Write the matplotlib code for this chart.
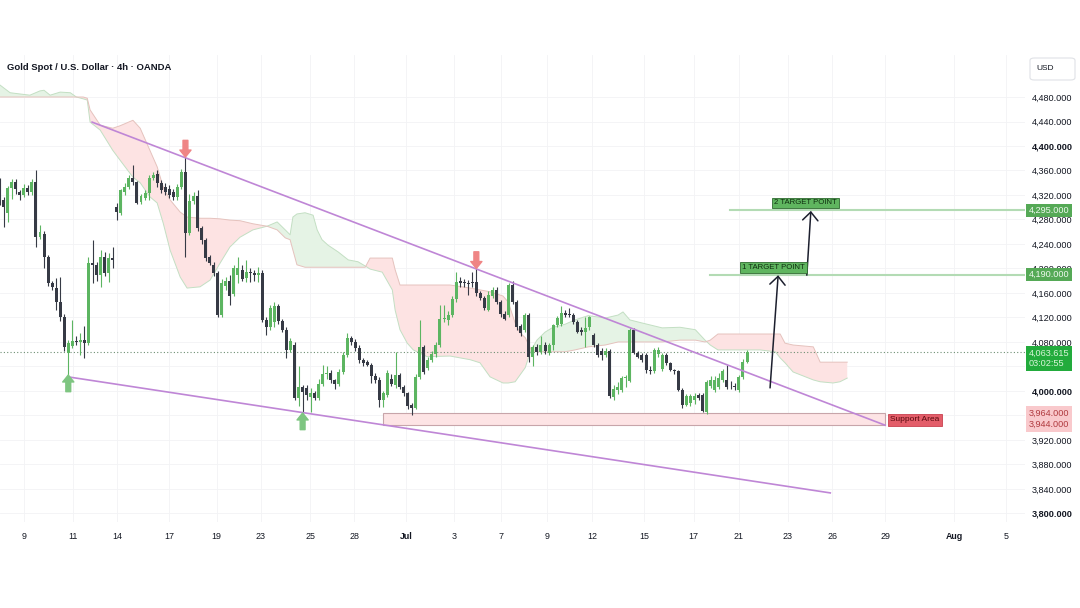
import matplotlib
matplotlib.use("Agg")
import matplotlib.pyplot as plt
import matplotlib.transforms as mtransforms
from matplotlib.patches import Rectangle, FancyBboxPatch
import numpy as np

plt.rcParams['font.family'] = ['Liberation Sans', 'DejaVu Sans']

# 4h candles (bar index = position)
opens = [4341, 4312, 4291, 4332, 4341, 4325, 4320, 4332, 4325, 4341,
         4252, 4257, 4219, 4176, 4168, 4145, 4121, 4062, 4074, 4082,
         4080, 4083, 4078, 4209, 4205, 4190, 4219, 4193, 4217, 4301,
         4290, 4325, 4333, 4348, 4341, 4309, 4315, 4323, 4348, 4354,
         4340, 4333, 4330, 4325, 4317, 4333, 4358, 4258, 4310, 4318,
         4266, 4247, 4219, 4206, 4193, 4124, 4172, 4180, 4158, 4190,
         4198, 4185, 4193, 4192, 4190, 4193, 4116, 4104, 4112, 4138,
         4115, 4100, 4067, 4075, 3989, 4007, 4005, 3990, 3996, 3989,
         4012, 4027, 4029, 4018, 4012, 4031, 4059, 4087, 4080, 4070,
         4050, 4047, 4043, 4024, 4018, 3986, 3993, 4020, 4010, 4026,
         4007, 3996, 3977, 3972, 4023, 4072, 4038, 4051, 4060, 4075,
         4117, 4116, 4124, 4150, 4179, 4177, 4176, 4177, 4178, 4160,
         4152, 4132, 4155, 4165, 4145, 4126, 4124, 4173, 4145, 4106,
         4100, 4124, 4056, 4072, 4063, 4075, 4062, 4075, 4108, 4110,
         4127, 4125, 4124, 4113, 4100, 4097, 4104, 4091, 4075, 4065,
         4058, 4065, 3990, 4002, 4002, 4021, 4017, 4100, 4062, 4058,
         4058, 4034, 4032, 4060, 4036, 4059, 4045, 4034, 4032, 4002,
         3977, 3980, 3985, 3993, 3993, 3966, 4008, 4002, 4007, 4018,
         4018, 4010, 4008, 4002, 4023, 4048]
highs = [4348, 4317, 4335, 4346, 4346, 4328, 4338, 4336, 4346, 4361,
         4271, 4262, 4222, 4180, 4184, 4186, 4125, 4083, 4116, 4090,
         4094, 4106, 4219, 4247, 4210, 4230, 4227, 4225, 4235, 4307,
         4330, 4340, 4352, 4369, 4343, 4322, 4328, 4352, 4358, 4360,
         4345, 4340, 4336, 4330, 4338, 4362, 4382, 4322, 4325, 4328,
         4270, 4250, 4222, 4210, 4196, 4182, 4186, 4190, 4205, 4219,
         4206, 4214, 4200, 4198, 4202, 4198, 4120, 4140, 4145, 4142,
         4118, 4105, 4086, 4080, 4041, 4010, 4010, 4005, 4000, 4020,
         4042, 4040, 4035, 4020, 4036, 4063, 4095, 4090, 4085, 4075,
         4053, 4050, 4046, 4030, 4022, 4000, 4035, 4028, 4064, 4030,
         4010, 3998, 3980, 4027, 4116, 4075, 4055, 4065, 4080, 4140,
         4140, 4130, 4155, 4194, 4186, 4182, 4181, 4195, 4200, 4163,
         4155, 4164, 4170, 4170, 4148, 4130, 4176, 4179, 4148, 4110,
         4127, 4128, 4075, 4076, 4090, 4080, 4078, 4110, 4122, 4138,
         4132, 4135, 4128, 4116, 4104, 4121, 4123, 4095, 4078, 4070,
         4070, 4068, 4010, 4015, 4025, 4026, 4103, 4103, 4065, 4062,
         4062, 4040, 4070, 4072, 4062, 4062, 4048, 4036, 4034, 4005,
         3995, 3995, 3996, 3997, 3996, 4018, 4025, 4024, 4030, 4036,
         4042, 4016, 4013, 4026, 4052, 4067]
lows = [4304, 4268, 4276, 4313, 4322, 4312, 4316, 4320, 4320, 4235,
        4248, 4201, 4172, 4165, 4132, 4115, 4066, 4026, 4070, 4075,
        4059, 4053, 4075, 4176, 4180, 4170, 4188, 4178, 4201, 4279,
        4288, 4320, 4330, 4336, 4305, 4305, 4312, 4312, 4345, 4333,
        4323, 4320, 4315, 4312, 4312, 4330, 4219, 4255, 4305, 4262,
        4240, 4213, 4205, 4188, 4120, 4120, 4165, 4140, 4155, 4176,
        4180, 4178, 4178, 4180, 4178, 4112, 4092, 4100, 4105, 4110,
        4097, 4054, 4063, 3985, 3975, 3964, 3985, 3966, 3985, 3985,
        4008, 4020, 4013, 4003, 4008, 4027, 4055, 4075, 4065, 4046,
        4040, 4040, 4013, 4013, 3974, 3973, 3990, 4008, 4005, 4003,
        3992, 3970, 3961, 3970, 4020, 4028, 4035, 4048, 4056, 4072,
        4112, 4108, 4120, 4146, 4170, 4170, 4157, 4170, 4155, 4148,
        4132, 4130, 4152, 4142, 4120, 4116, 4120, 4142, 4100, 4090,
        4096, 4048, 4040, 4058, 4060, 4060, 4058, 4067, 4104, 4106,
        4120, 4120, 4110, 4095, 4092, 4072, 4100, 4072, 4055, 4051,
        4055, 3988, 3985, 3995, 3998, 4007, 4015, 4060, 4053, 4048,
        4030, 4028, 4030, 4055, 4033, 4042, 4032, 4028, 4000, 3972,
        3975, 3976, 3978, 3985, 3966, 3962, 4005, 3998, 4004, 4015,
        4004, 4004, 4001, 3999, 4020, 4045]
closes = [4315, 4300, 4332, 4341, 4330, 4320, 4332, 4325, 4341, 4252,
          4260, 4219, 4176, 4170, 4145, 4121, 4072, 4078, 4082, 4080,
          4083, 4078, 4209, 4205, 4190, 4219, 4193, 4217, 4214, 4292,
          4328, 4333, 4348, 4341, 4307, 4318, 4323, 4348, 4353, 4339,
          4328, 4325, 4320, 4317, 4333, 4358, 4258, 4310, 4318, 4266,
          4247, 4217, 4209, 4193, 4124, 4176, 4180, 4155, 4201, 4201,
          4183, 4195, 4192, 4190, 4193, 4116, 4104, 4135, 4138, 4115,
          4100, 4067, 4082, 3989, 4007, 3999, 3993, 3996, 3989, 4012,
          4027, 4028, 4018, 4012, 4031, 4059, 4087, 4080, 4070, 4050,
          4045, 4043, 4024, 4018, 3985, 3996, 4030, 4012, 4026, 4007,
          3996, 3976, 3972, 4023, 4072, 4031, 4051, 4060, 4075, 4117,
          4118, 4124, 4150, 4178, 4177, 4176, 4174, 4176, 4160, 4152,
          4135, 4157, 4165, 4145, 4126, 4118, 4173, 4145, 4104, 4095,
          4124, 4056, 4072, 4063, 4075, 4065, 4075, 4108, 4119, 4127,
          4124, 4124, 4113, 4097, 4097, 4102, 4121, 4075, 4059, 4058,
          4065, 3992, 4004, 4007, 4021, 4023, 4100, 4062, 4056, 4051,
          4034, 4032, 4067, 4067, 4059, 4045, 4034, 4032, 4002, 3977,
          3991, 3991, 3991, 3989, 3968, 4015, 4018, 4018, 4021, 4032,
          4007, 4009, 4007, 4023, 4048, 4063.615]

# ichimoku cloud edges (bar position, leading span A, leading span B)
cloud_x = [0, 2.6, 5, 7.5, 10, 11, 12.5, 15, 17.5, 19,
           20.7, 21.7, 22.4, 24.9, 28, 29.8, 33, 34.8, 37.2, 39,
           40.5, 42.2, 44.7, 46.4, 49.6, 52.1, 54.6, 57, 59.5, 62.7,
           66.2, 68.7, 70.7, 71.9, 72.6, 73.6, 75.6, 77.6, 78.6, 79.8,
           81.3, 83.8, 86.3, 88.7, 90.5, 91.7, 94.7, 97.2, 97.9, 99.1,
           100.9, 102.4, 105.8, 111.5, 116.5, 118.9, 121.4, 124.6, 125.9, 127.6,
           128.8, 130.1, 131, 131.6, 133, 135, 137, 140, 142.4, 145.7,
           149.9, 153.1, 154.3, 156, 159, 164, 168.4, 172.2, 174.6, 175.9,
           177.8, 188.2, 192, 193.2, 194.4, 196.4, 201.4, 203.1, 206.3, 208, 209.8]
span_a = [4500, 4487, 4485, 4483, 4490, 4491, 4483, 4488, 4487, 4480,
          4477, 4475, 4439, 4426, 4393, 4377, 4349, 4340, 4317, 4307,
          4274, 4230, 4186, 4168, 4170, 4181, 4209, 4235, 4251, 4263,
          4269, 4276, 4263, 4255, 4284, 4289, 4291, 4287, 4263, 4247,
          4238, 4227, 4214, 4211, 4204, 4199, 4194, 4165, 4132, 4100,
          4078, 4067, 4056, 4057, 4051, 4046, 4023, 4013, 4013, 4015,
          4026, 4038, 4056, 4067, 4083, 4096, 4104, 4109, 4116, 4123,
          4119, 4124, 4129, 4116, 4111, 4103, 4104, 4100, 4083, 4075,
          4067, 4067, 4064, 4054, 4046, 4031, 4018, 4015, 4013, 4015, 4021]
span_b = [4480, 4480, 4480, 4480, 4480, 4480, 4480, 4480, 4480, 4480,
          4480, 4478, 4459, 4434, 4429, 4433, 4442, 4429, 4393, 4366,
          4333, 4312, 4292, 4284, 4282, 4282, 4281, 4279, 4278, 4273,
          4269, 4263, 4250, 4247, 4230, 4206, 4202, 4202, 4202, 4202,
          4202, 4202, 4202, 4202, 4202, 4217, 4217, 4217, 4198, 4173,
          4173, 4173, 4173, 4173, 4168, 4165, 4162, 4155, 4145, 4111,
          4095, 4087, 4075, 4067, 4064, 4064, 4064, 4064, 4067, 4072,
          4075, 4080, 4080, 4080, 4080, 4080, 4083, 4083, 4080, 4083,
          4093, 4093, 4093, 4093, 4078, 4075, 4072, 4047, 4047, 4047, 4047]

# drawings
upper_line_x = [22.9, 219.2]
upper_line_y = [4439, 3944]
lower_line_x = [16.95, 205.6]
lower_line_y = [4023, 3833.5]
support_x = [94.9, 219.2]
support_y = [3944, 3964]
sell_x = [46, 118]
sell_y = [4382, 4200]
buy_x = [17, 75]
buy_y = [4026, 3964]
target_prices = [4190, 4295]
target_start = [175.9, 180.8]
target_names = ['1 TARGET POINT', '2 TARGET POINT']
target_label_x = [191.5, 199.4]
target_label_y = [4202, 4307]
path1_x = [190.7, 192.7]
path1_y = [4005, 4189]
path2_x = [199.8, 200.8]
path2_y = [4189, 4294]
last_price = 4063.615

date_pos = [6.1, 18.1, 29.1, 42.0, 53.7, 64.7, 76.9, 87.8, 100.6, 112.5, 124.0,
            135.6, 146.7, 159.5, 171.8, 182.9, 195.1, 206.1, 219.2, 236.3, 249.1]
date_labels = ['9', '11', '14', '17', '19', '23', '25', '28', 'Jul', '3', '7',
               '9', '12', '15', '17', '21', '23', '26', '29', 'Aug', '5']
price_ticks = list(range(3800, 4481, 40))
hidden_ticks = [4040, 3960]   # covered by the price boxes

BULL = '#5cb561'
BEAR = '#363a45'

fig = plt.figure(figsize=(10.8, 6.08), dpi=100)
ax = fig.add_axes([0, 1 - 522 / 608, 1025 / 1080, 467 / 608])
ax.set_xlim(0.1, 253.8)
ax.set_ylim(3786, 4548.6)

# cloud
ca = np.array(span_a)
cb = np.array(span_b)
ax.fill_between(cloud_x, ca, cb, where=ca >= cb, interpolate=True, color='#e5f3e5', lw=0, zorder=1)
ax.fill_between(cloud_x, ca, cb, where=ca < cb, interpolate=True, color='#fde3e3', lw=0, zorder=1)
ax.plot(cloud_x, ca, color='#c3dfc3', lw=0.7, zorder=1.2)
ax.plot(cloud_x, cb, color='#e5c2bd', lw=0.7, zorder=1.2)

# support zone
ax.add_patch(Rectangle((support_x[0], support_y[0]), support_x[1] - support_x[0],
                       support_y[1] - support_y[0], fc='#fde4e5', ec='#c7a5aa', lw=0.8, zorder=1.5))

# candles
x = np.arange(len(closes))
o = np.array(opens, dtype=float)
c = np.array(closes, dtype=float)
up = c >= o
cols = np.where(up, BULL, BEAR)
ax.vlines(x, lows, highs, colors=cols, lw=0.8, zorder=3)
ax.bar(x, np.maximum(np.abs(c - o), 1.5), bottom=np.minimum(o, c), width=0.74,
       color=cols, lw=0, zorder=4)

# current price line
ax.axhline(last_price, color='#6f8f74', lw=0.8, ls=(0, (1, 2)), zorder=2)

# trend lines
ax.plot(upper_line_x, upper_line_y, color='#bf86d6', lw=1.2, zorder=5)
ax.plot(lower_line_x, lower_line_y, color='#bf86d6', lw=1.2, zorder=5)

# target levels
for p, s in zip(target_prices, target_start):
    ax.plot([s, 253.8], [p, p], color='#b3dbb4', lw=1.5, zorder=2)
for name, tx, ty in zip(target_names, target_label_x, target_label_y):
    ax.text(tx, ty, name, fontsize=5.6, color='#0f2e10', ha='center', va='center', zorder=7,
            bbox=dict(boxstyle='square,pad=0.25', fc='#5fb55f', ec='#2f6b30', lw=0.6))

for xs, ys in [(path1_x, path1_y), (path2_x, path2_y)]:
    ax.annotate('', xy=(xs[1], ys[1]), xytext=(xs[0], ys[0]), zorder=6,
                arrowprops=dict(arrowstyle='->,head_length=0.6,head_width=0.55', color='#1c1f2e',
                                lw=1.1, mutation_scale=10, shrinkA=0, shrinkB=0))

ax.text(226.6, 3953, 'Support Area', fontsize=6, color='#5a0a0f', ha='center', va='center', zorder=7,
        bbox=dict(boxstyle='square,pad=0.3', fc='#e35d69', ec='#c9414f', lw=0.6))

# signal arrows
for sx, sy in zip(sell_x, sell_y):
    ax.annotate('', xy=(sx, sy), xytext=(0, 12), textcoords='offset points', zorder=6,
                arrowprops=dict(arrowstyle='simple,head_length=0.5,head_width=0.8,tail_width=0.35',
                                color='#ef8585', mutation_scale=10, shrinkA=0, shrinkB=0))
for bx, by in zip(buy_x, buy_y):
    ax.annotate('', xy=(bx, by), xytext=(0, -12), textcoords='offset points', zorder=6,
                arrowprops=dict(arrowstyle='simple,head_length=0.5,head_width=0.8,tail_width=0.35',
                                color='#7ec581', mutation_scale=10, shrinkA=0, shrinkB=0))

# axes styling
for sp in ax.spines.values():
    sp.set_visible(False)
ax.yaxis.tick_right()
ax.set_yticks(price_ticks, ['' if v in hidden_ticks else f'{v:,.3f}' for v in price_ticks])
for lab, v in zip(ax.get_yticklabels(), price_ticks):
    if v in (4400, 4000, 3800):
        lab.set_fontweight('bold')
ax.set_xticks(date_pos, date_labels)
for lab in ax.get_xticklabels():
    if lab.get_text() in ('Jul', 'Aug'):
        lab.set_fontweight('bold')
ax.tick_params(axis='y', length=0, pad=5, labelsize=6.6, colors='#131722')
ax.tick_params(axis='x', length=0, pad=7, labelsize=6.4, colors='#131722')
ax.grid(color='#f2f3f5', lw=0.6, zorder=0)
ax.set_axisbelow(True)

# right-hand price labels
trans = mtransforms.blended_transform_factory(ax.transAxes, ax.transData)
for p in target_prices:
    ax.text(1.0035, p, f'{p:,.3f}', transform=trans, fontsize=6.6, color='#eef8ee', ha='left',
            va='center', clip_on=False, zorder=8,
            bbox=dict(boxstyle='square,pad=0.25', fc='#55a956', ec='none'))
ax.text(1.0035, last_price + 6, f'{last_price:,.3f}\n03:02:55', transform=trans, fontsize=6.6,
        color='#d8f5d8', ha='left', va='top', linespacing=1.3, clip_on=False, zorder=8,
        bbox=dict(boxstyle='square,pad=0.3', fc='#22ab3c', ec='none'))
ax.text(1.0035, 3954, f'{support_y[1]:,.3f}\n{support_y[0]:,.3f}', transform=trans, fontsize=6.6,
        color='#b03a3f', ha='left', va='center', linespacing=1.3, clip_on=False, zorder=8,
        bbox=dict(boxstyle='square,pad=0.3', fc='#f9c9cc', ec='none'))

# header
fig.text(7 / 1080, 1 - 68 / 608, 'Gold Spot / U.S. Dollar \u00b7 4h \u00b7 OANDA', fontsize=6.8,
         fontweight='bold', color='#131722', va='center', ha='left')
fig.add_artist(FancyBboxPatch((1030 / 1080, 1 - 80 / 608), 45 / 1080, 22 / 608,
                              boxstyle='round,pad=0,rounding_size=0.004', transform=fig.transFigure,
                              fc='white', ec='#dfe1e6', lw=0.8))
fig.text(1036 / 1080, 1 - 69 / 608, 'USD', fontsize=6, color='#131722', va='center', ha='left')

fig.savefig('out.png', dpi=100, facecolor='white')
